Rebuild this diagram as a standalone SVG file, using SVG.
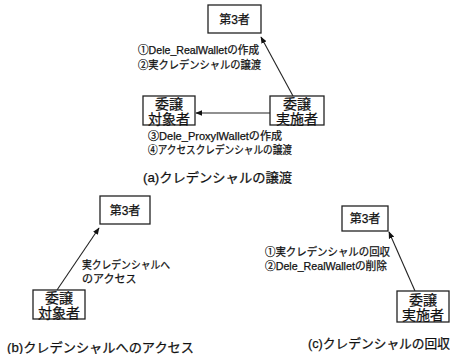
<svg xmlns="http://www.w3.org/2000/svg" width="457" height="354" viewBox="0 0 457 354">
<defs>
<marker id="ah" viewBox="0 0 10 10" refX="9" refY="5" markerWidth="7" markerHeight="7" orient="auto" markerUnits="userSpaceOnUse">
<path d="M0,1 L10,5 L0,9 z" fill="#111"/>
</marker>
<style>
.box{fill:#fff;stroke:#222;stroke-width:1.3}
.t{font-family:"Liberation Sans","Noto Sans CJK JP",sans-serif;fill:#111;stroke:#111;stroke-width:0.25}
.n{font-size:14px;text-anchor:middle}
.m{font-size:12px;text-anchor:middle}
.s{font-size:11px}
.c{font-size:13px}
.ln{stroke:#222;stroke-width:1.1;fill:none;marker-end:url(#ah)}
</style>
</defs>
<rect width="457" height="354" fill="#fff"/>
<g id="connectors">
<line class="ln" x1="293" y1="96" x2="261" y2="37"/>
<line class="ln" x1="270" y1="113" x2="196" y2="113"/>
<line class="ln" x1="57" y1="290" x2="99" y2="228"/>
<line class="ln" x1="415" y1="291" x2="389" y2="232"/>
</g>
<g id="a_third">
<rect class="box" x="208" y="5" width="53" height="28"/>
<text class="t m" x="234.5" y="23.5">第3者</text>
</g>
<g id="a_target">
<rect class="box" x="143" y="96" width="52" height="29"/>
<text class="t n" x="169" y="109">委譲</text>
<text class="t n" x="169" y="124">対象者</text>
</g>
<g id="a_executor">
<rect class="box" x="270" y="96" width="54" height="29"/>
<text class="t n" x="297" y="109">委譲</text>
<text class="t n" x="297" y="124">実施者</text>
</g>
<g id="b_third">
<rect class="box" x="100" y="196" width="50" height="28"/>
<text class="t m" x="125" y="214.5">第3者</text>
</g>
<g id="b_target">
<rect class="box" x="33" y="290" width="52" height="29"/>
<text class="t n" x="59" y="303">委譲</text>
<text class="t n" x="59" y="318">対象者</text>
</g>
<g id="c_third">
<rect class="box" x="342" y="206" width="46" height="25"/>
<text class="t m" x="365" y="223">第3者</text>
</g>
<g id="c_executor">
<rect class="box" x="397" y="291" width="52" height="31"/>
<text class="t n" x="423" y="305">委譲</text>
<text class="t n" x="423" y="320">実施者</text>
</g>
<g id="labels">
<text class="t s" x="138" y="54" textLength="121" lengthAdjust="spacingAndGlyphs">①Dele_RealWalletの作成</text>
<text class="t s" x="138" y="69" textLength="123" lengthAdjust="spacingAndGlyphs">②実クレデンシャルの譲渡</text>
<text class="t s" x="148" y="140" textLength="134" lengthAdjust="spacingAndGlyphs">③Dele_ProxylWalletの作成</text>
<text class="t s" x="148" y="154" textLength="144" lengthAdjust="spacingAndGlyphs">④アクセスクレデンシャルの譲渡</text>
<text class="t c" x="143" y="182" textLength="149" lengthAdjust="spacingAndGlyphs">(a)クレデンシャルの譲渡</text>
<text class="t s" x="82" y="269" textLength="88" lengthAdjust="spacingAndGlyphs">実クレデンシャルへ</text>
<text class="t s" x="82" y="283">のアクセス</text>
<text class="t c" x="7" y="352" textLength="187" lengthAdjust="spacingAndGlyphs">(b)クレデンシャルへのアクセス</text>
<text class="t s" x="265" y="256" textLength="125" lengthAdjust="spacingAndGlyphs">①実クレデンシャルの回収</text>
<text class="t s" x="265" y="270" textLength="122" lengthAdjust="spacingAndGlyphs">②Dele_RealWalletの削除</text>
<text class="t c" x="308" y="348" textLength="142" lengthAdjust="spacingAndGlyphs">(c)クレデンシャルの回収</text>
</g>
</svg>
